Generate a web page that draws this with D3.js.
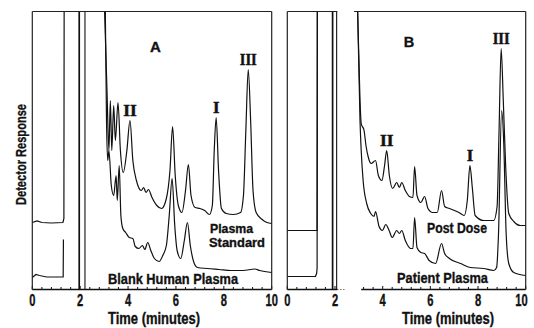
<!DOCTYPE html>
<html>
<head>
<meta charset="utf-8">
<script src="https://cdn.jsdelivr.net/npm/d3@7"></script>
<style>
  body { margin: 0; background: #fff; }
  svg { display: block; }
  text { font-family: "Liberation Sans", Arial, sans-serif; font-weight: bold; fill: #111; stroke: #111; stroke-width: 0.35px; }
  .roman { font-family: "Liberation Serif", "Times New Roman", serif; stroke-width: 0.5px; }
</style>
</head>
<body>
<div id="chart"></div>
<script>
// time axis (minutes)
var minuteTicks = [0, 2, 4, 6, 8, 10];

// peak markers
var peakNames = ["II", "I", "III"];
var peakTimesA = [4.08, 7.68, 9.02];
var peakTimesB = [4.17, 7.66, 8.97];

// solvent front pen strokes (minutes)
var frontA = [1.96, 2.2];
var frontB = [1.9, 2.07];

// detector response in chart units (0 = bottom of paper), [minutes, response]
// panel A - plasma standard
var stdStart = [[0, 67], [0.2, 68.5], [0.4, 67], [0.8, 66.5], [1.28, 67], [1.32, 71], [1.33, 278]];
var stdTrace = [[3.02, 278], [3.12, 199], [3.2, 139], [3.26, 189], [3.32, 139], [3.4, 184], [3.47, 149],
  [3.58, 187], [3.68, 139], [3.8, 117], [3.95, 139], [4.08, 169], [4.2, 129], [4.35, 109], [4.55, 99],
  [4.65, 102], [4.75, 97], [4.85, 100], [5.0, 92], [5.2, 84], [5.4, 81], [5.6, 91], [5.75, 119],
  [5.86, 163], [5.97, 114], [6.1, 84], [6.25, 77], [6.4, 99], [6.52, 125], [6.63, 94], [6.8, 82],
  [7.0, 81], [7.2, 79], [7.4, 75], [7.52, 84], [7.6, 139], [7.68, 172], [7.78, 119], [7.9, 81],
  [8.1, 76], [8.4, 75], [8.7, 77], [8.82, 94], [8.92, 159], [9.02, 220], [9.12, 169], [9.22, 99],
  [9.35, 77], [9.6, 70], [9.8, 67], [10.0, 66]];
// panel A - blank human plasma
var blankStart = [[0, 12], [0.15, 15], [0.3, 14], [0.6, 12.5], [1.29, 12.5], [1.3, 50]];
var blankTrace = [[3.05, 278], [3.1, 169], [3.15, 129], [3.2, 139], [3.3, 104], [3.4, 94], [3.5, 114],
  [3.55, 89], [3.63, 124], [3.7, 74], [3.78, 61], [3.9, 57], [4.05, 52], [4.2, 51], [4.3, 43],
  [4.45, 41], [4.6, 44], [4.7, 40], [4.82, 47], [4.95, 39], [5.1, 31], [5.3, 28], [5.45, 34],
  [5.6, 44], [5.72, 74], [5.84, 111], [5.95, 64], [6.05, 39], [6.2, 31], [6.35, 49], [6.48, 67],
  [6.6, 44], [6.75, 27], [6.9, 22], [7.3, 21], [7.8, 20], [8.3, 19], [8.8, 19], [9.3, 20.5],
  [9.5, 19], [10.0, 17]];
// panel B - post dose
var postStart = [[0, 59], [1.25, 59], [1.26, 278]];
var postTrace = [[2.95, 278], [3.05, 189], [3.1, 166], [3.22, 159], [3.3, 144], [3.4, 132], [3.52, 126],
  [3.7, 129], [3.82, 114], [3.97, 109], [4.08, 124], [4.17, 139], [4.28, 114], [4.42, 101],
  [4.59, 107], [4.7, 102], [4.8, 107], [4.95, 99], [5.12, 93], [5.27, 92], [5.34, 123], [5.44, 94],
  [5.6, 87], [5.76, 93], [5.9, 81], [6.1, 77], [6.29, 77], [6.47, 99], [6.6, 83], [6.8, 81],
  [7.2, 77], [7.42, 74], [7.55, 89], [7.66, 124], [7.76, 102], [7.88, 74], [8.24, 69], [8.66, 69],
  [8.8, 83], [8.88, 156], [8.97, 241], [9.06, 189], [9.16, 123], [9.29, 76], [9.5, 68], [9.78, 64],
  [10.0, 64]];
// panel B - patient plasma
var patientStart = [[0, 13], [1.18, 13], [1.23, 16], [1.25, 21], [1.26, 278]];
var patientTrace = [[2.95, 278], [3.05, 169], [3.1, 139], [3.18, 109], [3.33, 86], [3.5, 76], [3.64, 73],
  [3.7, 78], [3.85, 63], [3.99, 59], [4.13, 65], [4.27, 59], [4.4, 52], [4.59, 59], [4.7, 56],
  [4.8, 59], [4.95, 49], [5.17, 41], [5.27, 41], [5.34, 72], [5.44, 42], [5.6, 37], [5.76, 36],
  [5.95, 29], [6.22, 26], [6.47, 46], [6.6, 36], [6.8, 31], [7.27, 26], [7.68, 22], [8.24, 21],
  [8.66, 19], [8.78, 22], [8.86, 56], [8.99, 179], [9.08, 146], [9.18, 56], [9.29, 26], [9.5, 17],
  [10.0, 14]];

var svgWidth = 534, svgHeight = 328;
var svg = d3.select("#chart").append("svg")
    .attr("width", svgWidth)
    .attr("height", svgHeight);

var y = d3.scaleLinear().domain([0, 278]).range([289.5, 11.5]);
var xA = d3.scaleLinear().domain([0, 10]).range([32.3, 271.7]);
var xB = d3.scaleLinear().domain([0, 10]).range([287.3, 525.7]);

function drawPanel(name, x, frame, starts, traces, fronts, peakTimes, peakTrace) {
  var g = svg.append("g").attr("class", "panel-" + name);

  var clipId = "clip-" + name;
  svg.append("clipPath").attr("id", clipId)
    .append("rect")
      .attr("x", x(0)).attr("y", y(278))
      .attr("width", x(10) - x(0)).attr("height", y(0) - y(278));

  // frame pieces
  frame.top.forEach(function(s) {
    g.append("line").attr("x1", x(s[0])).attr("x2", x(s[1]))
      .attr("y1", y(278)).attr("y2", y(278))
      .attr("stroke", "#222").attr("stroke-width", 1.2);
  });
  frame.bottom.forEach(function(s) {
    g.append("line").attr("x1", x(s[0])).attr("x2", x(s[1]))
      .attr("y1", y(0)).attr("y2", y(0))
      .attr("stroke", "#111").attr("stroke-width", 1.3);
    var ticks = d3.range(0, 10.001, 0.4).filter(function(t) { return t >= s[0] - 0.01 && t <= s[1] + 0.01; });
    g.selectAll(null).data(ticks).enter().append("line")
      .attr("x1", function(t) { return x(t); })
      .attr("x2", function(t) { return x(t); })
      .attr("y1", y(0))
      .attr("y2", function(t) { return Math.abs(t - Math.round(t / 2) * 2) < 0.01 ? y(0) - 3.5 : y(0) - 2.5; })
      .attr("stroke", "#222").attr("stroke-width", 1.1);
  });
  if (frame.dotted) {
    g.append("line").attr("x1", x(frame.dotted[0])).attr("x2", x(frame.dotted[1]))
      .attr("y1", y(0)).attr("y2", y(0))
      .attr("stroke", "#333").attr("stroke-width", 1).attr("stroke-dasharray", "1,2");
  }
  frame.sides.forEach(function(t) {
    g.append("line").attr("x1", x(t)).attr("x2", x(t))
      .attr("y1", y(278)).attr("y2", y(0))
      .attr("stroke", "#222").attr("stroke-width", 1.2);
  });

  var plot = g.append("g").attr("clip-path", "url(#" + clipId + ")");

  // solvent front strokes
  plot.selectAll(".front").data(fronts).enter().append("line")
    .attr("class", "front")
    .attr("x1", function(t) { return x(t); })
    .attr("x2", function(t) { return x(t); })
    .attr("y1", y(278)).attr("y2", y(0))
    .attr("stroke", "#111")
    .attr("stroke-width", function(t, i) { return i === 0 ? 1.7 : 1.1; });

  var straight = d3.line()
      .x(function(d) { return x(d[0]); })
      .y(function(d) { return y(d[1]); });
  var smooth = d3.line()
      .x(function(d) { return x(d[0]); })
      .y(function(d) { return y(d[1]); })
      .curve(d3.curveMonotoneX);

  starts.forEach(function(s) {
    plot.append("path").datum(s)
      .attr("d", straight)
      .attr("fill", "none").attr("stroke", "#111").attr("stroke-width", 1.2);
  });
  traces.forEach(function(s) {
    plot.append("path").datum(s)
      .attr("d", smooth)
      .attr("fill", "none").attr("stroke", "#111").attr("stroke-width", 1.2)
      .attr("stroke-linejoin", "round");
  });

  // peak labels, sitting just above each peak
  var widths = { "I": 6.5, "II": 13.5, "III": 17 };
  peakTimes.forEach(function(t, i) {
    var top = d3.max(peakTrace.filter(function(d) { return Math.abs(d[0] - t) < 0.08; }), function(d) { return d[1]; });
    g.append("text").attr("class", "roman")
      .attr("x", x(t))
      .attr("y", y(top) - 5)
      .attr("text-anchor", "middle")
      .attr("font-size", 17)
      .attr("textLength", widths[peakNames[i]])
      .attr("lengthAdjust", "spacingAndGlyphs")
      .text(peakNames[i]);
  });

  // tick labels
  g.selectAll(".tick-label").data(minuteTicks).enter().append("text")
    .attr("class", "tick-label")
    .attr("x", function(t) { return Math.min(x(t), 521.5); })
    .attr("y", 306.3)
    .attr("text-anchor", "middle")
    .attr("font-size", 16)
    .attr("textLength", function(t) { return String(t).length * 6.2; })
    .attr("lengthAdjust", "spacingAndGlyphs")
    .text(function(t) { return t; });

  return g;
}

var gA = drawPanel("A", xA,
  { top: [[0, 10]], bottom: [[0, 10]], sides: [0, 10] },
  [stdStart, blankStart], [stdTrace, blankTrace], frontA, peakTimesA, stdTrace);

var gB = drawPanel("B", xB,
  { top: [[0, 2.1], [2.8, 10]], bottom: [[0, 2.1], [3.1, 10]], dotted: [2.1, 2.4], sides: [0, 10] },
  [postStart, patientStart], [postTrace, patientTrace], frontB, peakTimesB, postTrace);

function label(g, txt, x0, yb, size, len) {
  g.append("text")
    .attr("x", x0).attr("y", yb)
    .attr("font-size", size)
    .attr("textLength", len)
    .attr("lengthAdjust", "spacingAndGlyphs")
    .text(txt);
}

// panel letters
gA.append("text").attr("x", 155.5).attr("y", 51.7).attr("text-anchor", "middle")
  .attr("font-size", 15).text("A");
gB.append("text").attr("x", 409).attr("y", 46.7).attr("text-anchor", "middle")
  .attr("font-size", 14.5).text("B");

// trace labels
label(gA, "Plasma", 210, 233, 12.4, 43);
label(gA, "Standard", 209, 247, 12.4, 56);
label(gA, "Blank Human Plasma", 108, 284, 14.5, 130);
label(gB, "Post Dose", 427, 233, 14.5, 60);
label(gB, "Patient Plasma", 397, 283, 14.5, 91);

// axis titles
label(gA, "Time (minutes)", 108, 323.5, 16, 92);
label(gB, "Time (minutes)", 402, 323.5, 16, 92);

svg.append("text")
  .attr("transform", "translate(26,154.5) rotate(-90)")
  .attr("text-anchor", "middle")
  .attr("font-size", 15)
  .attr("textLength", 101)
  .attr("lengthAdjust", "spacingAndGlyphs")
  .text("Detector Response");
</script>
</body>
</html>
